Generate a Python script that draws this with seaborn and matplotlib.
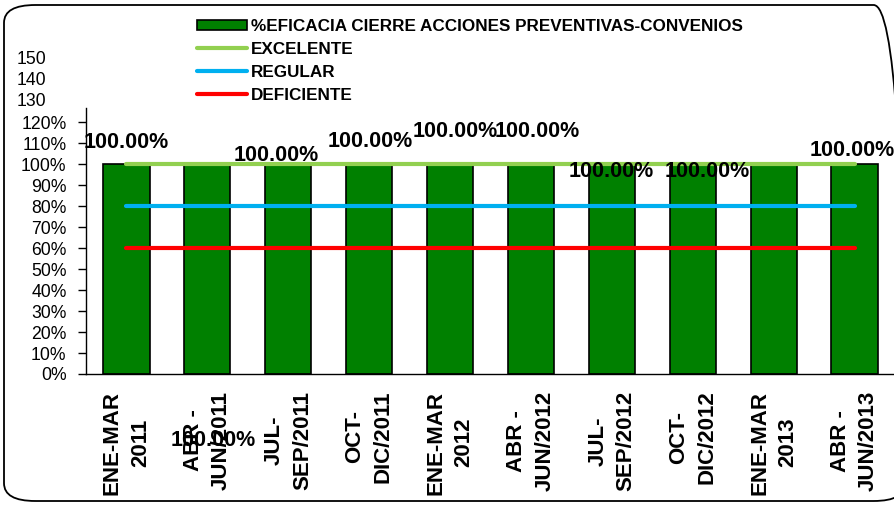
import pandas as pd
import matplotlib.pyplot as plt
import seaborn as sns
import numpy as np
from matplotlib.patches import FancyBboxPatch, Patch
from matplotlib.lines import Line2D
import matplotlib.transforms as mtransforms

# Datos
periodos = ["ENE-MAR\n2011", "ABR -\nJUN/2011", "JUL-\nSEP/2011", "OCT-\nDIC/2011",
            "ENE-MAR\n2012", "ABR -\nJUN/2012", "JUL-\nSEP/2012", "OCT-\nDIC/2012",
            "ENE-MAR\n2013", "ABR -\nJUN/2013"]
eficacia = [1.0, 1.0, 1.0, 1.0, 1.0, 1.0, 1.0, 1.0, 1.0, 1.0]
excelente = [1.0] * 10
regular = [0.8] * 10
deficiente = [0.6] * 10
etiquetas = ["100.00%", "100.00%", "100.00%", "100.00%", "100.00%",
             "100.00%", "100.00%", "100.00%", "", "100.00%"]

# desplazamiento de etiquetas (pixeles, como en el original de Excel)
desp = [(0, 22), (6, -276), (-12, 9), (1, 23), (5, 33), (6, 33), (-1, -7), (15, -7), (0, 0), (-2, 14)]

sns.set_style("white")
plt.rcParams['font.family'] = ['Liberation Sans', 'DejaVu Sans']
plt.rcParams['text.color'] = 'black'
plt.rcParams['xtick.color'] = 'black'
plt.rcParams['ytick.color'] = 'black'

df = pd.DataFrame({"periodo": periodos, "eficacia": eficacia})

fig = plt.figure(figsize=(8.95, 5.08), dpi=100)
ax = fig.add_axes([86/895, 1-374/508, 1-86/895, (374-108)/508])

sns.barplot(x="periodo", y="eficacia", data=df, color="#008000", saturation=1,
            width=0.57, edgecolor="black", linewidth=1.2, ax=ax, zorder=2)

x = np.arange(len(periodos))
ax.plot(x, excelente, color="#92D050", lw=3, solid_capstyle="round", zorder=3)
ax.plot(x, regular, color="#00B0F0", lw=3, solid_capstyle="round", zorder=3)
ax.plot(x, deficiente, color="#FF0000", lw=3, solid_capstyle="round", zorder=3)

for i, (v, t) in enumerate(zip(eficacia, etiquetas)):
    if t:
        ax.annotate(t, (i, v), xytext=(desp[i][0] * 0.72, desp[i][1] * 0.72),
                    textcoords="offset points", ha="center", va="center",
                    fontsize=15.5, fontweight="bold", annotation_clip=False, zorder=5)

ax.set_xlim(-0.5, 9.5)
ax.set_ylim(0, 1.267)
ax.set_yticks(np.arange(0, 1.21, 0.1))
ax.set_yticklabels([f"{int(round(v*100))}%" for v in np.arange(0, 1.21, 0.1)], fontsize=12.7)
ax.set_xticks(x)
ax.set_xticklabels(periodos, rotation=90, fontsize=16, fontweight="bold", linespacing=1.45)
ax.set_xticks(np.arange(-0.5, 10, 1), minor=True)
ax.tick_params(axis="x", which="major", length=0, pad=12)
ax.tick_params(axis="x", which="minor", length=6, width=1, direction="out", color="black")
ax.tick_params(axis="y", length=6, width=1, direction="out", color="black", left=True, pad=8)
ax.set_xlabel("")
ax.set_ylabel("")
for s in ["top", "right"]:
    ax.spines[s].set_visible(False)
for s in ["left", "bottom"]:
    ax.spines[s].set_color("black")
    ax.spines[s].set_linewidth(1)

# etiquetas recortadas del eje en el original
trans = mtransforms.blended_transform_factory(fig.transFigure, ax.transData)
for v in [1.3, 1.4, 1.5]:
    ax.text(17/895, v, str(int(round(v*100))), transform=trans, ha="left", va="center",
            fontsize=12.7, clip_on=False)

handles = [Patch(facecolor="#008000", edgecolor="black", linewidth=1.2),
           Line2D([0], [0], color="#92D050", lw=3),
           Line2D([0], [0], color="#00B0F0", lw=3),
           Line2D([0], [0], color="#FF0000", lw=3)]
labels = ["%EFICACIA CIERRE ACCIONES PREVENTIVAS-CONVENIOS", "EXCELENTE", "REGULAR", "DEFICIENTE"]
fig.legend(handles, labels, loc="upper left", bbox_to_anchor=(197/895, 1-19/508),
           frameon=False, prop={"weight": "bold", "size": 12.3}, handlelength=2.9,
           handleheight=0.6, handletextpad=0.25, labelspacing=0.47, borderpad=0,
           borderaxespad=0)

borde = FancyBboxPatch((4/895, 7/508), 1 + 6/895, 1-12/508, boxstyle="round,pad=0,rounding_size=0.035",
                       transform=fig.transFigure, facecolor="none", edgecolor="black",
                       linewidth=1.3, clip_on=False)
fig.patches.append(borde)

fig.savefig("out.png", dpi=100)
